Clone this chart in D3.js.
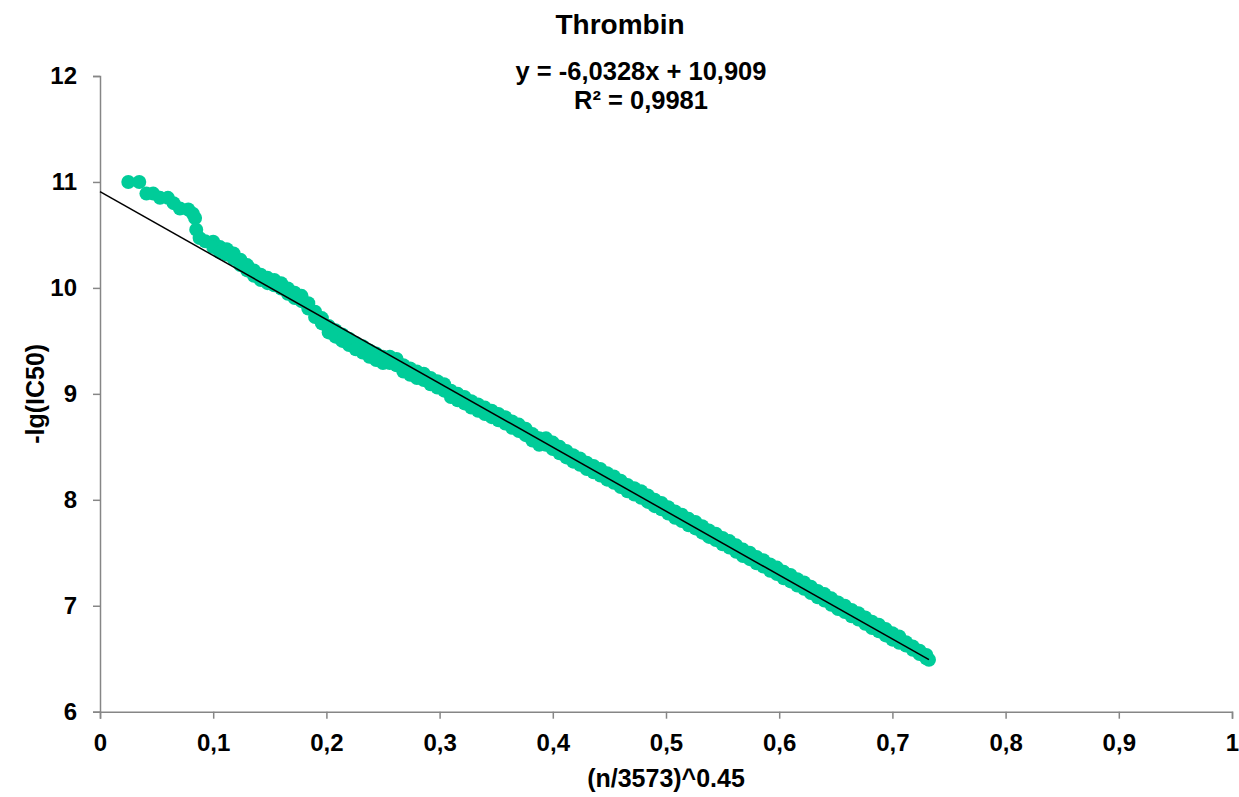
<!DOCTYPE html>
<html>
<head>
<meta charset="utf-8">
<script src="https://cdn.jsdelivr.net/npm/d3@7"></script>
<style>
  html, body { margin: 0; padding: 0; background: #fff; }
  svg { display: block; font-family: "Liberation Sans", Arial, sans-serif; }
</style>
</head>
<body>
<svg id="chart" width="1239" height="797"></svg>
<script>
// ---- data ----
// individual points at the top-left (first compounds)
const sparseX = [0.0250,0.0347,0.0410,0.0470,0.0530,0.0600,0.0650,0.0706,0.0780,0.0820,0.0840,0.0850,0.0880,0.0930,0.7323];
const sparseY = [11.00,11.00,10.89,10.89,10.85,10.85,10.80,10.75,10.74,10.70,10.66,10.55,10.47,10.44,6.49];
// dense cloud of points: x positions with upper and lower edge of the cloud
const bandX = [0.100,0.106,0.112,0.118,0.124,0.130,0.136,0.142,0.148,0.154,0.160,0.166,0.172,0.178,0.184,0.190,0.196,
  0.202,0.208,0.214,0.220,0.226,0.232,0.238,0.244,0.250,0.256,0.262,0.268,0.274,0.280,0.286,0.292,0.298,
  0.304,0.310,0.316,0.322,0.328,0.334,0.340,0.346,0.352,0.358,0.364,0.370,0.376,0.382,0.388,0.394,
  0.400,0.406,0.412,0.418,0.424,0.430,0.436,0.442,0.448,0.454,0.460,0.466,0.472,0.478,0.484,0.490,0.496,
  0.502,0.508,0.514,0.520,0.526,0.532,0.538,0.544,0.550,0.556,0.562,0.568,0.574,0.580,0.586,0.592,0.598,
  0.604,0.610,0.616,0.622,0.628,0.634,0.640,0.646,0.652,0.658,0.664,0.670,0.676,0.682,0.688,0.694,
  0.700,0.706,0.712,0.718,0.724,0.730];
const bandUpperY = [10.435,10.385,10.365,10.325,10.265,10.215,10.165,10.125,10.095,10.075,10.045,9.995,9.955,9.925,9.855,9.775,9.715,
  9.64,9.60,9.56,9.52,9.48,9.45,9.41,9.38,9.35,9.35,9.33,9.27,9.24,9.21,9.19,9.15,9.12,
  9.09,9.03,9.00,8.97,8.93,8.90,8.87,8.84,8.81,8.78,8.74,8.71,8.67,8.62,8.58,8.58,
  8.54,8.50,8.46,8.42,8.39,8.35,8.32,8.29,8.25,8.22,8.18,8.14,8.11,8.08,8.04,8.00,7.97,
  7.93,7.89,7.86,7.82,7.79,7.75,7.71,7.68,7.64,7.61,7.57,7.53,7.50,7.46,7.43,7.39,7.36,
  7.32,7.29,7.25,7.22,7.18,7.14,7.11,7.07,7.03,7.00,6.96,6.93,6.89,6.85,6.82,6.78,
  6.74,6.71,6.655,6.615,6.575,6.535];
const bandLowerY = [10.385,10.335,10.315,10.275,10.215,10.165,10.115,10.075,10.045,10.025,9.995,9.945,9.905,9.875,9.805,9.725,9.665,
  9.58,9.54,9.50,9.46,9.42,9.39,9.35,9.32,9.29,9.29,9.27,9.21,9.18,9.15,9.13,9.09,9.06,
  9.03,8.97,8.94,8.91,8.87,8.84,8.81,8.78,8.75,8.72,8.68,8.65,8.61,8.56,8.52,8.52,
  8.48,8.44,8.40,8.36,8.33,8.29,8.26,8.23,8.19,8.16,8.12,8.08,8.05,8.02,7.98,7.94,7.91,
  7.87,7.83,7.80,7.76,7.73,7.69,7.65,7.62,7.58,7.55,7.51,7.47,7.44,7.40,7.37,7.33,7.30,
  7.26,7.23,7.19,7.16,7.12,7.08,7.05,7.01,6.97,6.94,6.90,6.87,6.83,6.79,6.76,6.72,
  6.68,6.65,6.625,6.585,6.545,6.505];
const trendSlope = -6.0328;
const trendIntercept = 10.909;
const xTicks = [0,0.1,0.2,0.3,0.4,0.5,0.6,0.7,0.8,0.9,1];
const yTicks = [6,7,8,9,10,11,12];
const titleText = "Thrombin";
const equationText = "y = -6,0328x + 10,909";
const r2Text = "R² = 0,9981";
const xAxisTitle = "(n/3573)^0.45";
const yAxisTitle = "-lg(IC50)";

// ---- layout ----
const svg = d3.select("#chart");
const padL = 100, padR = 1232, padT = 76, padB = 711.7;
const x = d3.scaleLinear().domain([0, 1]).range([padL, padR]);
const y = d3.scaleLinear().domain([6, 12]).range([padB, padT]);
const fmt = v => String(v).replace(".", ",");
const axisColor = "#868686";

// axes
const xAxis = svg.append("g").attr("transform", `translate(0,${padB})`)
  .call(d3.axisBottom(x).tickValues(xTicks).tickFormat(fmt).tickSizeOuter(0).tickSize(7).tickPadding(15));
const yAxis = svg.append("g").attr("transform", `translate(${padL},0)`)
  .call(d3.axisLeft(y).tickValues(yTicks).tickFormat(fmt).tickSizeOuter(0).tickSize(7).tickPadding(16));
[xAxis, yAxis].forEach(g => {
  g.select(".domain").attr("stroke", axisColor).attr("stroke-width", 1.5);
  g.selectAll(".tick line").attr("stroke", axisColor).attr("stroke-width", 1.5);
  g.selectAll(".tick text").attr("fill", "#000").attr("font-size", 24).attr("font-weight", "bold")
    .attr("font-family", "Liberation Sans, Arial, sans-serif");
});

// points
const pts = sparseX.map((v, i) => [v, sparseY[i]])
  .concat(bandX.map((v, i) => [v, bandUpperY[i]]))
  .concat(bandX.map((v, i) => [v, bandLowerY[i]]));
svg.append("g").selectAll("circle").data(pts).join("circle")
  .attr("cx", d => x(d[0])).attr("cy", d => y(d[1])).attr("r", 7)
  .attr("fill", "#00CC99");

// trend line
const xMax = d3.max(sparseX.concat(bandX));
svg.append("line")
  .attr("x1", x(0)).attr("y1", y(trendIntercept))
  .attr("x2", x(xMax)).attr("y2", y(trendIntercept + trendSlope * xMax))
  .attr("stroke", "#000").attr("stroke-width", 1.5);

// texts
svg.append("text").attr("x", 620).attr("y", 34).attr("text-anchor", "middle")
  .attr("font-size", 28).attr("font-weight", "bold").text(titleText);
svg.append("text").attr("x", 641).attr("y", 80).attr("text-anchor", "middle")
  .attr("font-size", 25.5).attr("font-weight", "bold").text(equationText);
svg.append("text").attr("x", 641).attr("y", 109).attr("text-anchor", "middle")
  .attr("font-size", 25.5).attr("font-weight", "bold").text(r2Text);
svg.append("text").attr("x", (padL + padR) / 2).attr("y", 787).attr("text-anchor", "middle")
  .attr("font-size", 25).attr("font-weight", "bold").text(xAxisTitle);
svg.append("text").attr("transform", `translate(44,${(padT + padB) / 2}) rotate(-90)`).attr("text-anchor", "middle")
  .attr("font-size", 25).attr("font-weight", "bold").text(yAxisTitle);
</script>
</body>
</html>
